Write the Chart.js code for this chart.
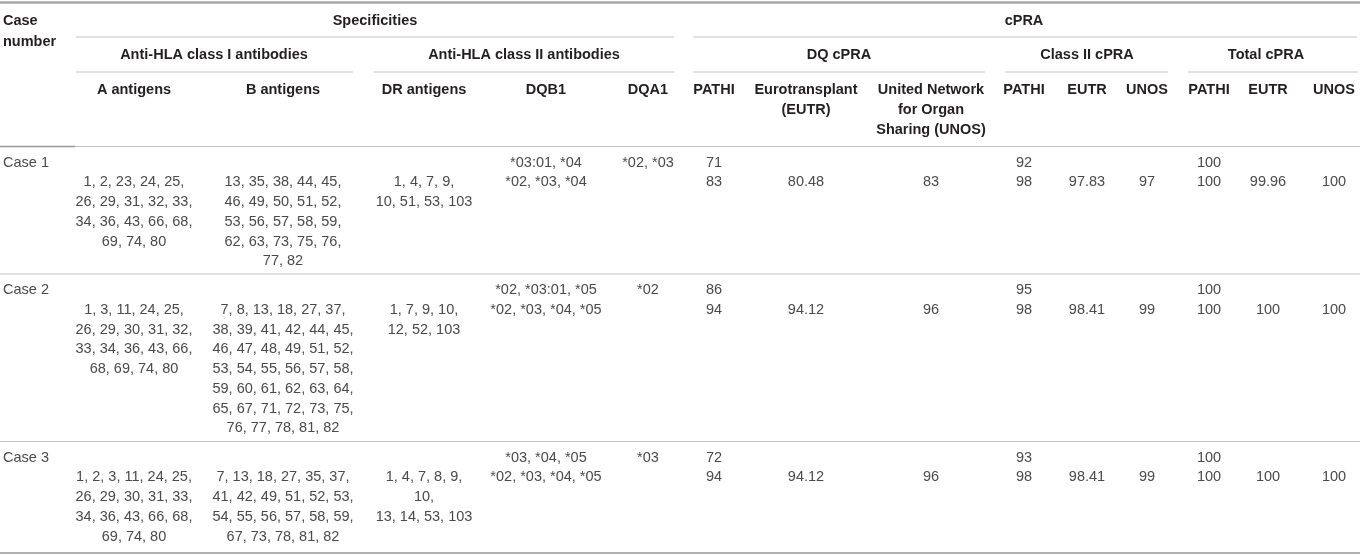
<!DOCTYPE html>
<html>
<head>
<meta charset="utf-8">
<script src="https://cdn.jsdelivr.net/npm/chart.js@4"></script>
<style>
  body { margin: 0; background: #fff; }
  #wrap { width: 1360px; height: 555px; }
</style>
</head>
<body>
<div id="wrap"><canvas id="table"></canvas></div>
<script>
// table content
let cases = ['Case 1', 'Case 2', 'Case 3'];

let aAntigens = [
  ['1, 2, 23, 24, 25,', '26, 29, 31, 32, 33,', '34, 36, 43, 66, 68,', '69, 74, 80'],
  ['1, 3, 11, 24, 25,', '26, 29, 30, 31, 32,', '33, 34, 36, 43, 66,', '68, 69, 74, 80'],
  ['1, 2, 3, 11, 24, 25,', '26, 29, 30, 31, 33,', '34, 36, 43, 66, 68,', '69, 74, 80']
];
let bAntigens = [
  ['13, 35, 38, 44, 45,', '46, 49, 50, 51, 52,', '53, 56, 57, 58, 59,', '62, 63, 73, 75, 76,', '77, 82'],
  ['7, 8, 13, 18, 27, 37,', '38, 39, 41, 42, 44, 45,', '46, 47, 48, 49, 51, 52,', '53, 54, 55, 56, 57, 58,',
   '59, 60, 61, 62, 63, 64,', '65, 67, 71, 72, 73, 75,', '76, 77, 78, 81, 82'],
  ['7, 13, 18, 27, 35, 37,', '41, 42, 49, 51, 52, 53,', '54, 55, 56, 57, 58, 59,', '67, 73, 78, 81, 82']
];
let drAntigens = [
  ['1, 4, 7, 9,', '10, 51, 53, 103'],
  ['1, 7, 9, 10,', '12, 52, 103'],
  ['1, 4, 7, 8, 9,', '10,', '13, 14, 53, 103']
];
let dqb1 = [
  ['*03:01, *04', '*02, *03, *04'],
  ['*02, *03:01, *05', '*02, *03, *04, *05'],
  ['*03, *04, *05', '*02, *03, *04, *05']
];
let dqa1 = [['*02, *03'], ['*02'], ['*03']];

let dqPathi = [[71, 83], [86, 94], [72, 94]];
let dqEutr = [80.48, 94.12, 94.12];
let dqUnos = [83, 96, 96];
let classIIPathi = [[92, 98], [95, 98], [93, 98]];
let classIIEutr = [97.83, 98.41, 98.41];
let classIIUnos = [97, 99, 99];
let totalPathi = [[100, 100], [100, 100], [100, 100]];
let totalEutr = [99.96, 100, 100];
let totalUnos = [100, 100, 100];

// header labels
let topHeaders = ['Specificities', 'cPRA'];
let groupHeaders = ['Anti-HLA class I antibodies', 'Anti-HLA class II antibodies', 'DQ cPRA', 'Class II cPRA', 'Total cPRA'];
let colHeaders = [
  ['A antigens'], ['B antigens'], ['DR antigens'], ['DQB1'], ['DQA1'],
  ['PATHI'], ['Eurotransplant', '(EUTR)'], ['United Network', 'for Organ', 'Sharing (UNOS)'],
  ['PATHI'], ['EUTR'], ['UNOS'], ['PATHI'], ['EUTR'], ['UNOS']
];

// layout (page units, mapped through the chart scales)
const W = 1360, H = 555;
const colX = [134, 283, 424, 546, 648, 714, 806, 931, 1024, 1087, 1147, 1209, 1268, 1334];
const topX = [375, 1024];
const topRule = [[76, 674], [693, 1357]];
const groupX = [214, 524, 839, 1087, 1266];
const groupRule = [[76, 353], [374, 674], [693, 985], [1005, 1168], [1188, 1358]];
const rowTop = [146.5, 274, 441.5];
const lineStep = 19.75;

const bodyFont = '14.5px "Liberation Sans", Arial, sans-serif';
const headFont = 'bold 14.5px "Liberation Sans", Arial, sans-serif';

let tablePlugin = {
  id: 'tablePlugin',
  afterDraw(chart) {
    let ctx = chart.ctx;
    let x = v => chart.scales.x.getPixelForValue(v);
    let y = v => chart.scales.y.getPixelForValue(v);

    function rule(x0, x1, yy, color, width) {
      ctx.save();
      ctx.strokeStyle = color;
      ctx.lineWidth = width;
      ctx.beginPath();
      ctx.moveTo(x(x0), y(yy));
      ctx.lineTo(x(x1), y(yy));
      ctx.stroke();
      ctx.restore();
    }
    function text(str, xx, yy, align, font, color) {
      ctx.save();
      ctx.font = font;
      ctx.fillStyle = color;
      ctx.textAlign = align;
      ctx.textBaseline = 'middle';
      ctx.fillText(String(str), x(xx), y(yy));
      ctx.restore();
    }

    // rules
    rule(0, W, 2.5, '#a8a8a8', 2.5);
    topRule.forEach(r => rule(r[0], r[1], 37, '#c4c4c4', 1.2));
    groupRule.forEach(r => rule(r[0], r[1], 72, '#c4c4c4', 1.2));
    rule(0, W, rowTop[0], '#c4c4c4', 1.2);
    rule(0, 75, rowTop[0], '#9a9a9a', 1.4);
    rule(0, W, rowTop[1], '#c4c4c4', 1.2);
    rule(0, W, rowTop[2], '#c4c4c4', 1.2);
    rule(0, W, 553, '#b0b0b0', 2);

    // headers
    const hc = '#231f20';
    text('Case', 3, 21, 'left', headFont, hc);
    text('number', 3, 41.5, 'left', headFont, hc);
    topHeaders.forEach((t, i) => text(t, topX[i], 21, 'center', headFont, hc));
    groupHeaders.forEach((t, i) => text(t, groupX[i], 55, 'center', headFont, hc));
    colHeaders.forEach((lines, i) => lines.forEach((t, k) => text(t, colX[i], 90 + k * 20, 'center', headFont, hc)));

    // body
    const bc = '#4a4a4a';
    let columns = [aAntigens, bAntigens, drAntigens, dqb1, dqa1, dqPathi,
      dqEutr, dqUnos, classIIPathi, classIIEutr, classIIUnos, totalPathi, totalEutr, totalUnos];
    // line where each column starts inside a row (0 = same line as case label)
    let startLine = [1, 1, 1, 0, 0, 0, 1, 1, 0, 1, 1, 0, 1, 1];

    cases.forEach((c, r) => {
      let y0 = rowTop[r] + 16;
      text(c, 3, y0, 'left', bodyFont, bc);
      columns.forEach((col, i) => {
        let cell = Array.isArray(col[r]) ? col[r] : [col[r]];
        cell.forEach((t, k) => text(t, colX[i], y0 + (startLine[i] + k) * lineStep, 'center', bodyFont, bc));
      });
    });
  }
};

let myChart = new Chart(document.getElementById('table'), {
  type: 'scatter',
  data: { datasets: [] },
  options: {
    animation: false,
    responsive: true,
    maintainAspectRatio: false,
    layout: { padding: 0 },
    plugins: {
      legend: { display: false },
      tooltip: { enabled: false }
    },
    scales: {
      x: { type: 'linear', min: 0, max: W, display: false },
      y: { type: 'linear', min: 0, max: H, reverse: true, display: false }
    }
  },
  plugins: [tablePlugin]
});
</script>
</body>
</html>
